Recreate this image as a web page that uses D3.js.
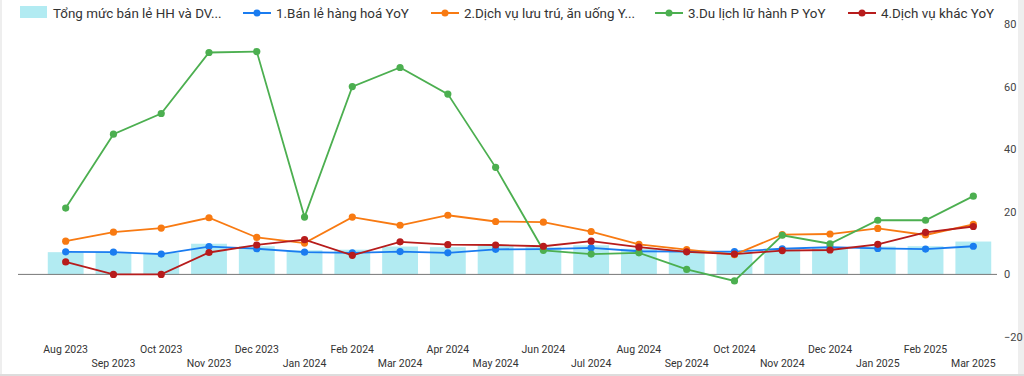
<!DOCTYPE html>
<html>
<head>
<meta charset="utf-8">
<script src="https://cdn.jsdelivr.net/npm/d3@7"></script>
<style>
  html, body { margin: 0; padding: 0; background: #fff; }
  svg { display: block; font-family: Roboto, "Noto Sans", sans-serif; }
</style>
</head>
<body>
<div id="chart"></div>
<script>
const months = ["Aug 2023", "Sep 2023", "Oct 2023", "Nov 2023", "Dec 2023", "Jan 2024", "Feb 2024",
  "Mar 2024", "Apr 2024", "May 2024", "Jun 2024", "Jul 2024", "Aug 2024", "Sep 2024", "Oct 2024",
  "Nov 2024", "Dec 2024", "Jan 2025", "Feb 2025", "Mar 2025"];

// bar: Tổng mức bán lẻ HH và DV
const totalRetail = [7.1, 7.1, 6.9, 9.8, 9.0, 7.7, 7.9, 8.9, 8.7, 9.3, 8.7, 9.3, 8.2, 7.8, 7.4, 8.2, 8.7, 8.9, 9.0, 10.5];
const goodsRetail = [7.2, 7.1, 6.5, 8.9, 8.2, 7.1, 6.9, 7.3, 6.9, 8.0, 8.1, 8.5, 7.4, 7.3, 7.3, 8.2, 8.7, 8.3, 8.1, 9.0];
const lodgingFood = [10.6, 13.5, 14.8, 18.1, 11.8, 10.0, 18.3, 15.7, 18.9, 16.9, 16.7, 13.7, 9.6, 7.9, 6.3, 12.7, 12.9, 14.7, 12.6, 16.0];
const travel = [21.2, 44.8, 51.4, 70.9, 71.2, 18.3, 60.0, 66.1, 57.6, 34.2, 7.7, 6.5, 6.9, 1.6, -2.1, 12.5, 9.8, 17.3, 17.3, 25.0];
const otherServices = [4.0, 0.0, 0.0, 7.0, 9.4, 11.1, 6.1, 10.4, 9.5, 9.4, 9.0, 10.6, 8.7, 7.2, 6.5, 7.6, 7.8, 9.6, 13.4, 15.3];

const yTicks = [-20, 0, 20, 40, 60, 80];

const barLabel = "Tổng mức bán lẻ HH và DV...";
const lineSeries = [
  { name: "1.Bán lẻ hàng hoá YoY", values: goodsRetail, color: "#1a7cf0" },
  { name: "2.Dịch vụ lưu trú, ăn uống Y...", values: lodgingFood, color: "#f87a12" },
  { name: "3.Du lịch lữ hành P YoY", values: travel, color: "#4caf50" },
  { name: "4.Dịch vụ khác YoY", values: otherServices, color: "#b71c1c" }
];
const barColor = "#b2ebf2";

// legend item start positions
const legendX = [20, 243, 431, 655, 848];

const W = 1024, H = 376;

const svg = d3.select("#chart").append("svg")
  .attr("width", W)
  .attr("height", H);

// card edges
svg.append("rect").attr("x", 0).attr("y", 0).attr("width", 2).attr("height", H).attr("fill", "#eeeeee");
svg.append("rect").attr("x", 1018).attr("y", 0).attr("width", 6).attr("height", H).attr("fill", "#eeeeee");
svg.append("rect").attr("x", 0).attr("y", 374).attr("width", W).attr("height", 2).attr("fill", "#dddddd");

const x = d3.scaleBand()
  .domain(months)
  .range([41.8, 997.2])
  .paddingInner(0.25)
  .paddingOuter(0.125);

const y = d3.scaleLinear()
  .domain([-20, 80])
  .range([337, 24]);

const cx = d => x(d) + x.bandwidth() / 2;

// bars
svg.append("g").selectAll("rect")
  .data(months)
  .join("rect")
  .attr("x", d => x(d))
  .attr("width", x.bandwidth())
  .attr("y", (d, i) => y(Math.max(0, totalRetail[i])))
  .attr("height", (d, i) => Math.abs(y(totalRetail[i]) - y(0)))
  .attr("fill", barColor);

// zero line
svg.append("line")
  .attr("x1", 18).attr("x2", 997)
  .attr("y1", y(0)).attr("y2", y(0))
  .attr("stroke", "#777")
  .attr("stroke-width", 1);

// right axis labels
const yAxis = svg.append("g")
  .attr("transform", "translate(1000,0)")
  .call(d3.axisRight(y).tickValues(yTicks).tickSize(0).tickPadding(4));
yAxis.select(".domain").remove();
yAxis.selectAll("text")
  .style("font-size", "11px")
  .style("font-family", "Roboto, sans-serif")
  .attr("fill", "#444");

// x labels, staggered in two rows
svg.append("g").selectAll("text")
  .data(months)
  .join("text")
  .attr("x", d => cx(d))
  .attr("y", (d, i) => i % 2 === 0 ? 353 : 366.5)
  .attr("text-anchor", "middle")
  .style("font-size", "10.5px")
  .attr("fill", "#333")
  .text(d => d);

// lines
const line = d3.line()
  .x((v, i) => cx(months[i]))
  .y(v => y(v));

lineSeries.forEach(s => {
  const g = svg.append("g");
  g.append("path")
    .datum(s.values)
    .attr("d", line)
    .attr("fill", "none")
    .attr("stroke", s.color)
    .attr("stroke-width", 1.8);
  g.selectAll("circle")
    .data(s.values)
    .join("circle")
    .attr("cx", (v, i) => cx(months[i]))
    .attr("cy", v => y(v))
    .attr("r", 3.6)
    .attr("fill", s.color);
});

// legend
const legend = svg.append("g").attr("transform", "translate(0,13)");
legend.append("rect")
  .attr("x", legendX[0]).attr("y", -7)
  .attr("width", 27).attr("height", 12)
  .attr("fill", barColor);
legend.append("text")
  .attr("x", legendX[0] + 33).attr("y", 4.5)
  .style("font-size", "13.4px")
  .attr("fill", "#333")
  .text(barLabel);

lineSeries.forEach((s, i) => {
  const lx = legendX[i + 1];
  legend.append("line")
    .attr("x1", lx).attr("x2", lx + 28)
    .attr("y1", 0).attr("y2", 0)
    .attr("stroke", s.color)
    .attr("stroke-width", 2);
  legend.append("circle")
    .attr("cx", lx + 14).attr("cy", 0)
    .attr("r", 3.5)
    .attr("fill", s.color);
  legend.append("text")
    .attr("x", lx + 33).attr("y", 4.5)
    .style("font-size", "13.4px")
    .attr("fill", "#333")
    .text(s.name);
});
</script>
</body>
</html>
